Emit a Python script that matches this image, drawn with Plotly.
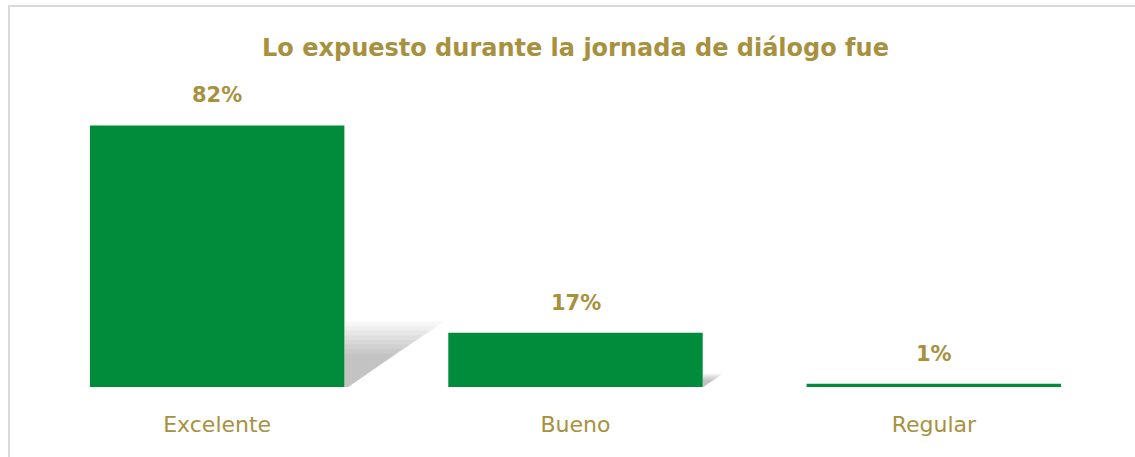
import plotly.graph_objects as go

categories = ["Excelente", "Bueno", "Regular"]
values = [82, 17, 1]
labels = ["82%", "17%", "1%"]

GREEN = "#008C3A"
GOLD = "#A8913E"
FONT = "DejaVu Sans"

fig = go.Figure()

BAR_W = 0.71
shapes = []
# soft perspective shadows derived from the bar values
for i, v in enumerate(values):
    x0 = i + BAR_W / 2
    h = v * 0.25
    dx = v * 0.0034
    n = 8
    for k in range(n):
        s = 1 - k * 0.07
        path = (f"M {x0},0 L {x0},{h*s} L {x0 + dx*s},{h*s} "
                f"L {x0 + dx*0.04},0 Z")
        shapes.append(dict(type="path", xref="x", yref="y", path=path,
                           fillcolor="rgba(0,0,0,0.03)", line=dict(width=0),
                           layer="below"))

fig.add_trace(go.Bar(
    x=list(range(len(categories))), y=values, width=BAR_W,
    marker=dict(color=GREEN, line=dict(width=0)),
    hoverinfo="skip",
))

annotations = []
for i, (v, t) in enumerate(zip(values, labels)):
    annotations.append(dict(x=i, y=v, xref="x", yref="y", text=f"<b>{t}</b>",
                            showarrow=False, yanchor="bottom", yshift=16,
                            font=dict(family=FONT, size=21, color=GOLD)))

# outer frame
shapes.append(dict(type="rect", xref="paper", yref="paper",
                   x0=-29/1075, x1=1.1, y0=-0.3, y1=1 + 62/319.5,
                   line=dict(color="#D9D9D9", width=2), fillcolor="rgba(0,0,0,0)",
                   layer="below"))

fig.update_layout(
    width=1135, height=457,
    margin=dict(l=38, r=22, t=68, b=70),
    paper_bgcolor="white", plot_bgcolor="white",
    title=dict(text="<b>Lo expuesto durante la jornada de diálogo fue</b>",
               x=0.5, xref="paper", y=1 - 48/457, yanchor="middle",
               font=dict(family=FONT, size=24, color=GOLD)),
    xaxis=dict(tickmode="array", tickvals=list(range(len(categories))),
               ticktext=categories, range=[-0.5, 2.5],
               showgrid=False, zeroline=False, showline=False, ticks="",
               ticklabelstandoff=22,
               tickfont=dict(family=FONT, size=22, color=GOLD)),
    yaxis=dict(range=[0, 100], visible=False),
    showlegend=False,
    shapes=shapes,
    annotations=annotations,
)

fig.write_html("out.html", config={"displayModeBar": False},
               post_script="document.body.style.margin='0';document.body.style.overflow='hidden';")
